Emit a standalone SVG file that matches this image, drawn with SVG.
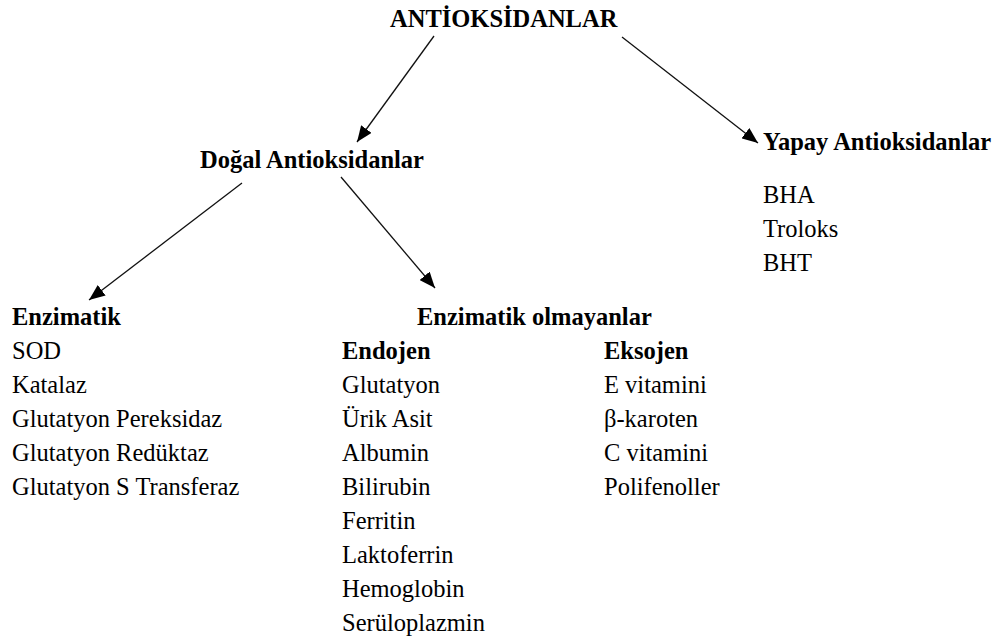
<svg xmlns="http://www.w3.org/2000/svg" width="1003" height="644" viewBox="0 0 1003 644">
<style>
text{font-family:'Liberation Serif','DejaVu Serif',serif;font-size:24.5px;fill:#000}
.b{font-weight:bold}
.c{stroke:#111;stroke-width:1.3;fill:none}
</style>
<defs>
<marker id="ah" markerUnits="userSpaceOnUse" markerWidth="17" markerHeight="13" refX="16" refY="6.5" orient="auto">
<path d="M0,0 L16,6.5 L0,13 z" fill="#000"/>
</marker>
</defs>
<rect width="1003" height="644" fill="#fff"/>
<g id="connectors">
<line class="c" x1="434" y1="36" x2="357" y2="142" marker-end="url(#ah)"/>
<line class="c" x1="622" y1="37" x2="758" y2="143" marker-end="url(#ah)"/>
<line class="c" x1="242" y1="183" x2="89" y2="300" marker-end="url(#ah)"/>
<line class="c" x1="341" y1="177" x2="435" y2="288" marker-end="url(#ah)"/>
</g>
<g font-family="Liberation Serif, serif">
<g id="root"><text class="b" x="390" y="27">ANTİOKSİDANLAR</text></g>
<g id="dogal"><text class="b" x="200" y="168">Doğal Antioksidanlar</text></g>
<g id="yapay">
<text class="b" x="763" y="150">Yapay Antioksidanlar</text>
<text x="763" y="203">BHA</text>
<text x="763" y="237">Troloks</text>
<text x="763" y="271">BHT</text>
</g>
<g id="enzimatik">
<text class="b" x="12" y="325">Enzimatik</text>
<text x="12" y="359">SOD</text>
<text x="12" y="393">Katalaz</text>
<text x="12" y="427">Glutatyon Pereksidaz</text>
<text x="12" y="461">Glutatyon Redüktaz</text>
<text x="12" y="495">Glutatyon S Transferaz</text>
</g>
<g id="enzimatik-olmayanlar">
<text class="b" x="417" y="325">Enzimatik olmayanlar</text>
</g>
<g id="endojen">
<text class="b" x="342" y="359">Endojen</text>
<text x="342" y="393">Glutatyon</text>
<text x="342" y="427">Ürik Asit</text>
<text x="342" y="461">Albumin</text>
<text x="342" y="495">Bilirubin</text>
<text x="342" y="529">Ferritin</text>
<text x="342" y="563">Laktoferrin</text>
<text x="342" y="597">Hemoglobin</text>
<text x="342" y="631">Serüloplazmin</text>
</g>
<g id="eksojen">
<text class="b" x="604" y="359">Eksojen</text>
<text x="604" y="393">E vitamini</text>
<text x="604" y="427">β-karoten</text>
<text x="604" y="461">C vitamini</text>
<text x="604" y="495">Polifenoller</text>
</g>
</g>
</svg>
